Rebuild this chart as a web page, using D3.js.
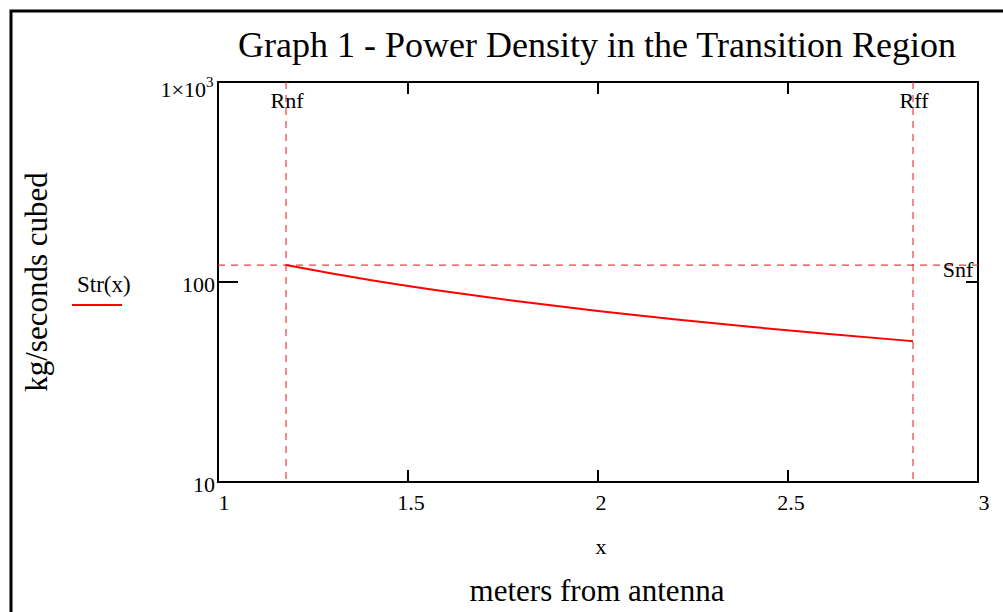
<!doctype html>
<html lang="en">
<head>
<meta charset="utf-8">
<title>Graph 1 - Power Density in the Transition Region</title>
<style>
html, body { margin: 0; padding: 0; background: #fff; }
svg { display: block; font-family: 'Liberation Serif', 'DejaVu Serif', serif; }
.dash { stroke: #ee2a2a; stroke-width: 1.2; stroke-dasharray: 7,6; opacity: 0.9; }
</style>
</head>
<body>
<svg id="chart" width="1003" height="612"></svg>
<script src="https://cdnjs.cloudflare.com/ajax/libs/d3/7.8.5/d3.min.js"></script>
<script>
// values
var strX = [1.179, 1.3, 1.4, 1.6, 1.8, 2.0, 2.2, 2.4, 2.6, 2.829];
var strY = [121.5, 110.2, 102.4, 89.6, 79.6, 71.6, 65.1, 59.7, 55.1, 50.6];
var markers = [
  { name: 'Rnf', x: 1.179 },
  { name: 'Rff', x: 2.829 }
];
var snf = 121.5;
var xTicks = [1, 1.5, 2, 2.5, 3];
var xTickLabels = ['1', '1.5', '2', '2.5', '3'];
var yTicks = [10, 100, 1000];
var yTickLabels = ['10', '100', '1×10'];

var svg = d3.select('#chart');
var L = 218, R = 978, T = 82, B = 482;

var x = d3.scaleLinear().domain([1, 3]).range([L, R]);
var y = d3.scaleLog().domain([10, 1000]).range([B, T]);

// outer frame
svg.append('rect')
  .attr('x', 11).attr('y', 11).attr('width', 1010).attr('height', 620)
  .attr('fill', 'none').attr('stroke', '#000').attr('stroke-width', 3);

// title
svg.append('text')
  .attr('x', 597).attr('y', 57)
  .attr('text-anchor', 'middle')
  .style('font-size', '36px')
  .text('Graph 1 - Power Density in the Transition Region');

// plot box
svg.append('rect')
  .attr('x', L).attr('y', T).attr('width', R - L).attr('height', B - T)
  .attr('fill', 'none').attr('stroke', '#000').attr('stroke-width', 2);

// inward ticks on all four sides
var g = svg.append('g').attr('stroke', '#000').attr('stroke-width', 2);
xTicks.forEach(function (v) {
  g.append('line').attr('x1', x(v)).attr('x2', x(v)).attr('y1', B).attr('y2', B - 12);
  g.append('line').attr('x1', x(v)).attr('x2', x(v)).attr('y1', T).attr('y2', T + 12);
});
yTicks.forEach(function (v) {
  g.append('line').attr('x1', L).attr('x2', L + 20).attr('y1', y(v)).attr('y2', y(v));
  g.append('line').attr('x1', R).attr('x2', R - 12).attr('y1', y(v)).attr('y2', y(v));
});

// x tick labels
svg.selectAll('.xl').data(xTicks).enter().append('text')
  .attr('class', 'xl')
  .attr('x', function (d, i) { return x(d) + (i === 0 || i === xTicks.length - 1 ? 6 : 3); })
  .attr('y', 510)
  .attr('text-anchor', 'middle')
  .style('font-size', '22px')
  .text(function (d, i) { return xTickLabels[i]; });

// y tick labels
svg.selectAll('.yl').data(yTicks).enter().append('text')
  .attr('class', 'yl')
  .attr('x', function (d) { return d === 1000 ? 206 : 215; })
  .attr('y', function (d) { return y(d) + (d === 1000 ? 15 : 10); })
  .attr('text-anchor', 'end')
  .style('font-size', '22px')
  .text(function (d, i) { return yTickLabels[i]; });
svg.append('text')
  .attr('x', 206).attr('y', y(1000) + 5)
  .style('font-size', '15px')
  .text('3');

// dashed marker lines
markers.forEach(function (m) {
  svg.append('line').attr('class', 'dash')
    .attr('x1', x(m.x)).attr('x2', x(m.x)).attr('y1', T).attr('y2', B);
  svg.append('text')
    .attr('x', x(m.x) + 1).attr('y', 108)
    .attr('text-anchor', 'middle')
    .style('font-size', '22px')
    .text(m.name);
});
svg.append('line').attr('class', 'dash')
  .attr('x1', L).attr('x2', R).attr('y1', y(snf)).attr('y2', y(snf));
svg.append('text')
  .attr('x', 958).attr('y', y(snf) + 12)
  .attr('text-anchor', 'middle')
  .style('font-size', '22px')
  .text('Snf');

// Str(x) curve
var line = d3.line()
  .x(function (d) { return x(d[0]); })
  .y(function (d) { return y(d[1]); })
  .curve(d3.curveMonotoneX);
svg.append('path')
  .datum(strX.map(function (v, i) { return [v, strY[i]]; }))
  .attr('d', line)
  .attr('fill', 'none')
  .attr('stroke', '#f00')
  .attr('stroke-width', 2);

// legend
svg.append('text')
  .attr('x', 77).attr('y', 292)
  .style('font-size', '23px')
  .text('Str(x)');
svg.append('line')
  .attr('x1', 72).attr('x2', 122).attr('y1', 305).attr('y2', 305)
  .attr('stroke', '#f00').attr('stroke-width', 2);

// axis titles
svg.append('text')
  .attr('transform', 'translate(47,282) rotate(-90)')
  .attr('text-anchor', 'middle')
  .style('font-size', '31px')
  .text('kg/seconds cubed');
svg.append('text')
  .attr('x', 601).attr('y', 554)
  .attr('text-anchor', 'middle')
  .style('font-size', '22px')
  .text('x');
svg.append('text')
  .attr('x', 597).attr('y', 601)
  .attr('text-anchor', 'middle')
  .style('font-size', '31px')
  .text('meters from antenna');
</script>
</body>
</html>
